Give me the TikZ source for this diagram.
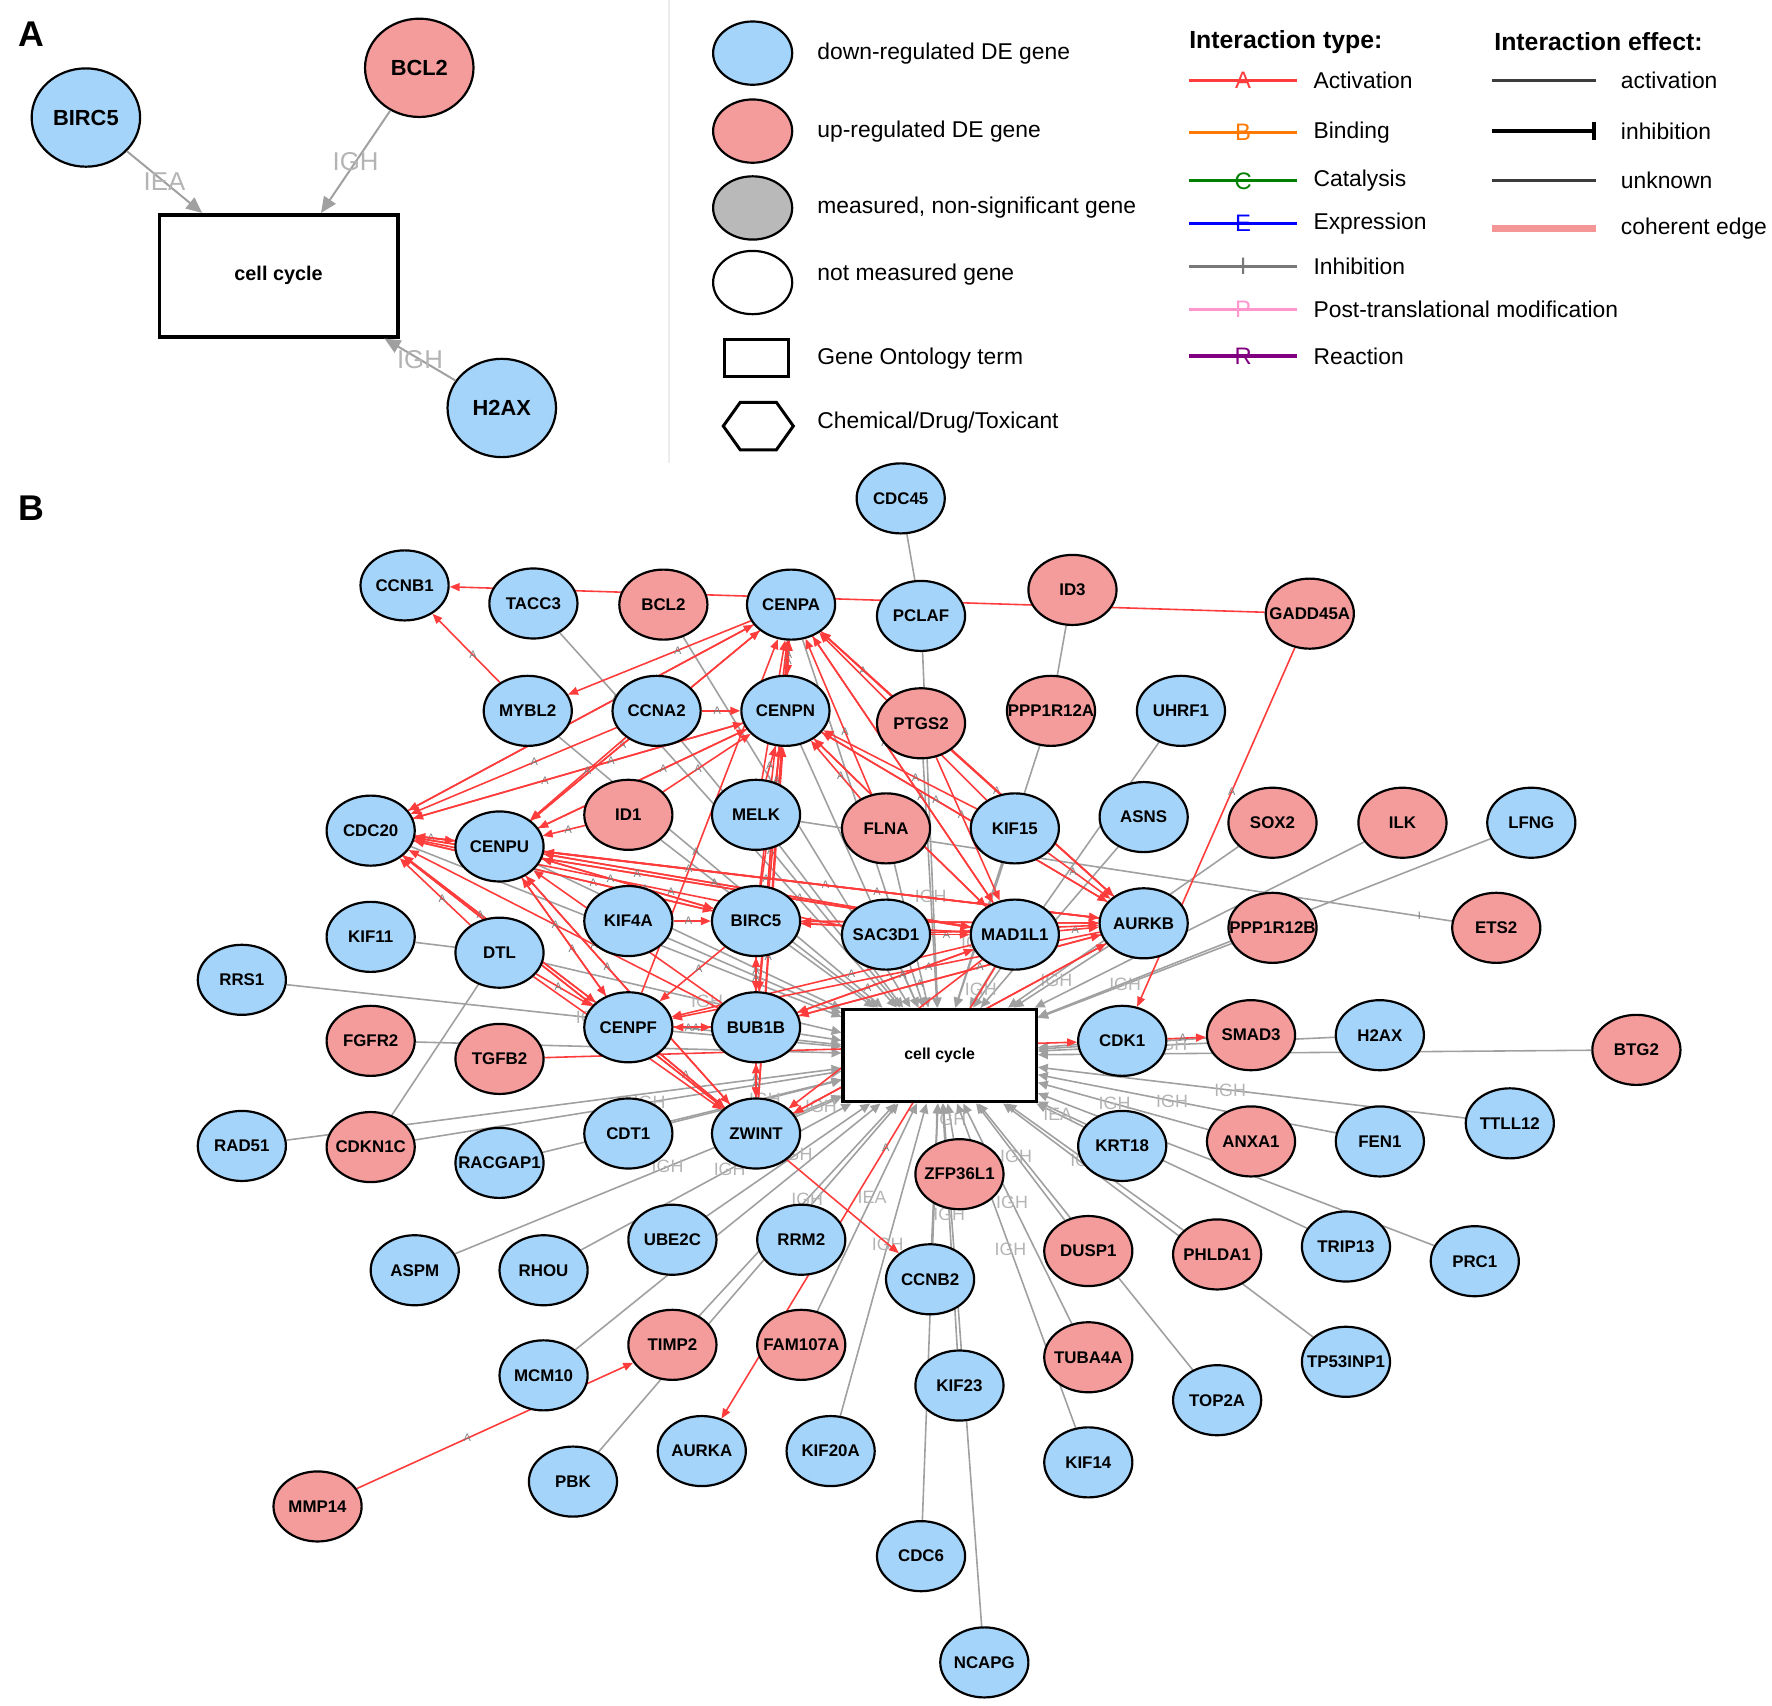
\documentclass[tikz,border=0pt]{standalone}
\usepackage{fontspec}
\setmainfont{Liberation Sans}
\usetikzlibrary{shapes.geometric,arrows.meta,backgrounds}

\definecolor{dnblue}{RGB}{164,212,250}
\definecolor{upred}{RGB}{244,156,156}
\definecolor{actred}{RGB}{255,60,60}
\definecolor{edgegray}{RGB}{160,160,160}
\definecolor{lblgray}{RGB}{180,180,180}
\definecolor{nsgray}{RGB}{185,185,185}
\definecolor{itorange}{RGB}{255,120,0}
\definecolor{itgreen}{RGB}{0,128,0}
\definecolor{itblue}{RGB}{0,0,255}
\definecolor{itgray}{RGB}{120,120,120}
\definecolor{itpink}{RGB}{255,150,205}
\definecolor{itpurple}{RGB}{128,0,128}
\definecolor{effgray}{RGB}{60,60,60}
\definecolor{coherent}{RGB}{245,150,150}

\tikzset{
  gene/.style={ellipse, draw=black, line width=1.1pt, inner sep=0pt,
    minimum width=1.56cm, minimum height=1.24cm,
    font=\fontsize{8.5}{9}\selectfont\bfseries},
  dngene/.style={gene, fill=dnblue},
  upgene/.style={gene, fill=upred},
  bigdn/.style={dngene, minimum width=1.92cm, minimum height=1.74cm,
    font=\fontsize{11}{12}\selectfont\bfseries},
  bigup/.style={upgene, minimum width=1.92cm, minimum height=1.74cm,
    font=\fontsize{11}{12}\selectfont\bfseries},
  goterm/.style={rectangle, draw=black, line width=1.6pt, fill=white, inner sep=0pt},
  goedge/.style={draw=edgegray, line width=0.8pt, -{Triangle[length=5pt,width=4.5pt]}},
  bigedge/.style={draw=edgegray, line width=1pt, -{Triangle[length=8pt,width=7pt]}},
  plainedge/.style={draw=edgegray, line width=0.8pt},
  actedge/.style={draw=actred, line width=0.8pt, -{Triangle[length=5pt,width=4pt]}},
  evlbl/.style={font=\fontsize{9}{9}\selectfont, text=lblgray, inner sep=1pt},
  bigevlbl/.style={font=\fontsize{13}{13}\selectfont, text=lblgray, inner sep=1pt},
  alabel/.style={font=\fontsize{5.5}{5.5}\selectfont, text=gray, inner sep=0pt},
  legtxt/.style={anchor=west, font=\fontsize{11.5}{12}\selectfont, inner sep=0pt},
  leghead/.style={anchor=west, font=\fontsize{12.5}{13}\selectfont\bfseries, inner sep=0pt},
  panel/.style={font=\fontsize{18}{18}\selectfont\bfseries, inner sep=0pt}
}

\begin{document}
\begin{tikzpicture}[x=0.02cm,y=-0.02cm]
\useasboundingbox (0,0) rectangle (1568,1509);

% panel letters
\node[panel] (labA) at (28,30) {A};
\node[panel] (labB) at (28,450) {B};
\draw[black!7, line width=0.6pt] (592,0) -- (592,410);

% Panel A
\node[bigdn] (aBIRC5) at (76,104) {BIRC5};
\node[bigup] (aBCL2) at (371,60) {BCL2};
\node[bigdn] (aH2AX) at (444,361) {H2AX};
\node[goterm, line width=1.8pt, minimum width=4.22cm, minimum height=2.16cm,
  font=\fontsize{10}{10}\selectfont\bfseries] (acc) at (246.5,244) {cell cycle};
\draw[bigedge] (aBIRC5) -- (acc) node[midway, bigevlbl] {IEA};
\draw[bigedge] (aBCL2) -- (acc) node[midway, bigevlbl] {IGH};
\draw[bigedge] (aH2AX) -- (acc) node[midway, bigevlbl] {IGH};

% Legend: node kinds
\node[gene, fill=dnblue, minimum width=1.4cm, minimum height=1.12cm] (legdn) at (666,47) {};
\node[gene, fill=upred, minimum width=1.4cm, minimum height=1.12cm] (legup) at (666,116) {};
\node[gene, fill=nsgray, minimum width=1.4cm, minimum height=1.12cm] (legns) at (666,184) {};
\node[gene, fill=white, minimum width=1.4cm, minimum height=1.12cm] (legnm) at (666,250) {};
\node[goterm, line width=1.5pt, minimum width=1.14cm, minimum height=0.66cm] (leggo) at (669.5,316.5) {};
\draw[line width=1.5pt] (640,377) -- (655,356) -- (687,356) -- (702,377) -- (687,398) -- (655,398) -- cycle;
\node[legtxt] (legdntxt) at (723,47) {down-regulated DE gene};
\node[legtxt] (leguptxt) at (723,116) {up-regulated DE gene};
\node[legtxt] (legnstxt) at (723,184) {measured, non-significant gene};
\node[legtxt] (legnmtxt) at (723,243) {not measured gene};
\node[legtxt] (leggotxt) at (723,317) {Gene Ontology term};
\node[legtxt] (legchtxt) at (723,374) {Chemical/Drug/Toxicant};

% Legend: interaction type
\node[leghead] (ithead) at (1052,37) {Interaction type:};
\foreach \col/\lt/\txt/\y in {actred/A/Activation/71, itorange/B/Binding/117,
    itgreen/C/Catalysis/160, itblue/E/Expression/198, itgray/I/Inhibition/236,
    itpink/P/Post-translational modification/274, itpurple/R/Reaction/315}{
  \draw[\col, line width=1.6pt] (1052,\y) -- (1148,\y)
    node[midway, text=\col, inner sep=0pt, font=\fontsize{12}{12}\selectfont] {\lt};
  \node[legtxt] (it\y) at (1162,\y) {\txt};
}

% Legend: interaction effect
\node[leghead] (iehead) at (1322,37) {Interaction effect:};
\draw[effgray, line width=1.6pt] (1320,71) -- (1412,71);
\draw[black, line width=1.9pt, -{Bar[width=9pt,line width=1.9pt]}] (1320,116) -- (1412,116);
\draw[effgray, line width=1.6pt] (1320,160) -- (1412,160);
\draw[coherent, line width=3.5pt] (1320,202) -- (1412,202);
\node[legtxt] (ie1) at (1434,71) {activation};
\node[legtxt] (ie2) at (1434,116) {inhibition};
\node[legtxt] (ie3) at (1434,160) {unknown};
\node[legtxt] (ie4) at (1434,202) {coherent edge};

% Panel B genes
\foreach \n/\x/\y in {CDC45/797/441, CCNB1/358/518, TACC3/472/534, CENPA/700/535,
    PCLAF/815/545, MYBL2/467/629, CCNA2/581/629, CENPN/695/629, UHRF1/1045/629,
    CDC20/328/735, CENPU/442/749, MELK/669/721, KIF15/898/733, ASNS/1012/723,
    LFNG/1355/728, KIF11/328/829, DTL/442/843, KIF4A/556/815, BIRC5/669/815,
    SAC3D1/784/827, MAD1L1/898/827, AURKB/1012/817, RRS1/214/867, CENPF/556/909,
    BUB1B/669/909, CDK1/993/921, H2AX/1221/916, RAD51/214/1014, RACGAP1/442/1029,
    CDT1/556/1003, ZWINT/669/1003, KRT18/993/1014, FEN1/1221/1010, TTLL12/1336/994,
    ASPM/367/1124, RHOU/481/1124, UBE2C/595/1097, RRM2/709/1097, CCNB2/823/1132,
    TRIP13/1191/1103, PRC1/1305/1116, MCM10/481/1217, KIF23/849/1226,
    TOP2A/1077/1239, TP53INP1/1191/1205, PBK/507/1311, AURKA/621/1284,
    KIF20A/735/1284, KIF14/963/1294, CDC6/815/1377, NCAPG/871/1471}
  \node[dngene] (\n) at (\x,\y) {\makebox[0pt]{\n}};
\foreach \n/\x/\y in {BCL2/587/535, ID3/949/522, GADD45A/1159/543, PTGS2/815/640,
    PPP1R12A/930/629, ID1/556/721, FLNA/784/733, SOX2/1126/728, ILK/1241/728,
    PPP1R12B/1126/821, ETS2/1324/821, FGFR2/328/921, TGFB2/442/937, SMAD3/1107/916,
    BTG2/1448/929, CDKN1C/328/1015, ANXA1/1107/1010, ZFP36L1/849/1039,
    DUSP1/963/1107, PHLDA1/1077/1110, TIMP2/595/1190, FAM107A/709/1190,
    TUBA4A/963/1201, MMP14/281/1333}
  \node[upgene] (\n) at (\x,\y) {\makebox[0pt]{\n}};
\node[goterm, minimum width=3.42cm, minimum height=1.64cm,
  font=\fontsize{8}{8}\selectfont\bfseries] (cc) at (831.5,934) {cell cycle};

\begin{scope}[on background layer]
% GO annotation edges
\foreach \n/\l in {RRS1/IGH, FGFR2/{}, CDKN1C/IGH, RAD51/{}, RACGAP1/{}, CDT1/IGH,
    ASPM/IGH, RHOU/IGH, MCM10/{}, UBE2C/IGH, PBK/{}, TIMP2/IGH, KIF20A/IGH,
    FAM107A/IEA, ZFP36L1/IGH, CCNB2/IGH, KIF23/IGH, CDC6/{}, NCAPG/{}, KIF14/IGH,
    TUBA4A/IGH, DUSP1/IGH, TOP2A/{}, PHLDA1/IGH, TP53INP1/{}, TRIP13/{}, PRC1/{},
    KRT18/IEA, ANXA1/IGH, FEN1/IGH, TTLL12/IGH, CDK1/{}, SMAD3/IGH, H2AX/IGH,
    BTG2/{}, PPP1R12B/IGH, AURKB/IGH, SOX2/{}, ILK/{}, LFNG/{}, ASNS/{}, UHRF1/{},
    PPP1R12A/{}, PCLAF/{}, PTGS2/IGH, KIF15/IGH, FLNA/IGH, SAC3D1/{}, MAD1L1/IGH,
    MELK/{}, BIRC5/{}, BUB1B/{}, ZWINT/IGH, CENPF/{}, KIF4A/{}, CENPN/{}, CENPA/{},
    CCNA2/{}, TACC3/{}, BCL2/{}, MYBL2/{}, ID1/{}, DTL/IGH, CENPU/{}, CDC20/{}}
  \draw[goedge] (\n) -- (cc) node[pos=0.55, evlbl] {\l};
% other gray links
\draw[plainedge] (KIF11) -- (DTL);
\draw[plainedge] (DTL) -- (CDKN1C);
\draw[plainedge] (CDC45) -- (PCLAF);
\draw[plainedge] (ID3) -- (PPP1R12A);
\draw[plainedge] (ETS2) -- (MELK) node[pos=0.05, alabel] {I};
% activation edges
\foreach \s/\t in {CDC20/CENPA, CENPU/CENPA, MELK/CENPA, BIRC5/CENPA, BUB1B/CENPA,
    CENPF/CENPA, ZWINT/CENPA, KIF15/CENPA, MAD1L1/CENPA, AURKB/CENPA, CENPN/CENPA,
    FLNA/CENPA, PTGS2/CENPA, CENPA/CENPN,
    CDC20/CENPN, CENPU/CENPN, ID1/CENPN, CCNA2/CENPN, MELK/CENPN, BIRC5/CENPN,
    BUB1B/CENPN, ZWINT/CENPN, MAD1L1/CENPN, AURKB/CENPN, FLNA/CENPN, KIF15/CENPN,
    CENPA/CDC20, CENPN/CDC20, CCNA2/CDC20, BIRC5/CDC20, BUB1B/CDC20, CENPF/CDC20,
    ZWINT/CDC20, MAD1L1/CDC20, AURKB/CDC20, SAC3D1/CDC20, DTL/CDC20,
    CENPA/CENPU, CENPN/CENPU, CCNA2/CENPU, ID1/CENPU, CDC20/CENPU, BIRC5/CENPU,
    BUB1B/CENPU, ZWINT/CENPU, MAD1L1/CENPU, AURKB/CENPU, CENPF/CENPU,
    CENPU/MAD1L1, CDC20/MAD1L1, BIRC5/MAD1L1, BUB1B/MAD1L1, CENPA/MAD1L1,
    CENPN/MAD1L1, SAC3D1/MAD1L1, PTGS2/MAD1L1,
    CENPA/AURKB, CENPN/AURKB, CENPU/AURKB, CDC20/AURKB, BIRC5/AURKB, MAD1L1/AURKB,
    BUB1B/AURKB, ZWINT/AURKB, KIF15/AURKB, PTGS2/AURKB, SAC3D1/AURKB,
    CDC20/CENPF, CENPU/CENPF, DTL/CENPF, BUB1B/CENPF, BIRC5/CENPF, AURKB/CENPF,
    MAD1L1/CENPF, CENPF/BUB1B, BIRC5/BUB1B, MAD1L1/BUB1B, AURKB/BUB1B, ZWINT/BUB1B,
    CENPA/BUB1B, CENPF/ZWINT, CDC20/ZWINT, CENPU/ZWINT, BUB1B/ZWINT, BIRC5/ZWINT,
    MAD1L1/ZWINT, AURKB/ZWINT, DTL/ZWINT, BUB1B/BIRC5, AURKB/BIRC5, MAD1L1/BIRC5,
    CENPU/BIRC5, KIF4A/BIRC5, CDC20/BIRC5, CENPA/MYBL2,
    TGFB2/CDK1, CENPF/CCNB2, MAD1L1/AURKA, GADD45A/CDK1, CDK1/SMAD3,
    MYBL2/CCNB1, GADD45A/CCNB1, MMP14/TIMP2}
  \draw[actedge] (\s) -- (\t) node[pos=0.4, alabel] {A};
\end{scope}
\end{tikzpicture}
\end{document}
